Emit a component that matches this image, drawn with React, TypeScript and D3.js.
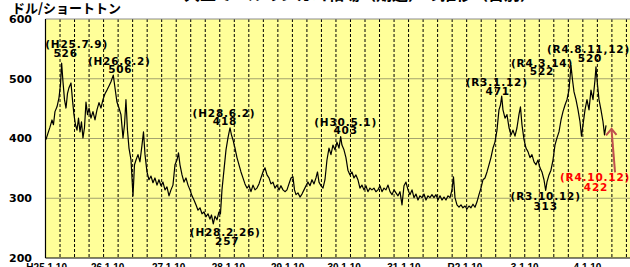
import React, { useEffect, useRef } from 'react';
import * as d3 from 'd3';

// decimal year, US$/short ton
const priceSeries: [number, number][] = [
  [2013.258, 398], [2013.293, 409], [2013.327, 419], [2013.362, 431], [2013.387, 423], [2013.413, 445],
  [2013.448, 453], [2013.482, 468], [2013.508, 490], [2013.528, 526], [2013.551, 495], [2013.577, 465],
  [2013.603, 451], [2013.628, 475], [2013.654, 485], [2013.689, 493], [2013.714, 465], [2013.74, 440],
  [2013.766, 423], [2013.792, 414], [2013.818, 434], [2013.844, 411], [2013.869, 428], [2013.895, 401],
  [2013.921, 418], [2013.947, 461], [2013.973, 440],
  [2014.0, 451], [2014.033, 434], [2014.067, 445], [2014.102, 431], [2014.136, 448], [2014.171, 460],
  [2014.205, 451], [2014.239, 465], [2014.274, 475], [2014.308, 481], [2014.343, 488], [2014.377, 495],
  [2014.417, 506], [2014.446, 485], [2014.48, 461], [2014.515, 451], [2014.549, 440], [2014.584, 401],
  [2014.61, 423], [2014.635, 465], [2014.661, 414], [2014.687, 384], [2014.722, 364], [2014.756, 304],
  [2014.782, 356], [2014.808, 364], [2014.842, 373], [2014.876, 361], [2014.911, 389], [2014.937, 411],
  [2014.963, 373], [2014.997, 344],
  [2015.031, 331], [2015.066, 337], [2015.1, 326], [2015.134, 334], [2015.169, 322], [2015.203, 331],
  [2015.238, 321], [2015.272, 327], [2015.307, 314], [2015.341, 319], [2015.376, 304], [2015.41, 314],
  [2015.444, 322], [2015.479, 356], [2015.513, 364], [2015.539, 376], [2015.565, 356], [2015.6, 339],
  [2015.634, 327], [2015.668, 334], [2015.703, 322], [2015.737, 314], [2015.772, 304], [2015.806, 297],
  [2015.84, 289], [2015.875, 280], [2015.909, 284], [2015.944, 274], [2015.978, 277],
  [2016.013, 269], [2016.047, 274], [2016.081, 265], [2016.107, 272], [2016.138, 257], [2016.168, 270],
  [2016.202, 264], [2016.236, 277], [2016.262, 274], [2016.288, 314], [2016.322, 347], [2016.357, 381],
  [2016.391, 401], [2016.426, 418], [2016.451, 406], [2016.477, 398], [2016.512, 384], [2016.546, 368],
  [2016.581, 356], [2016.615, 344], [2016.649, 334], [2016.684, 324], [2016.718, 317], [2016.753, 321],
  [2016.787, 311], [2016.822, 322], [2016.856, 314], [2016.89, 317], [2016.925, 324], [2016.959, 334],
  [2016.994, 344],
  [2017.028, 351], [2017.063, 339], [2017.097, 334], [2017.131, 324], [2017.166, 327], [2017.2, 317],
  [2017.235, 322], [2017.269, 314], [2017.303, 321], [2017.338, 314], [2017.372, 311], [2017.407, 314],
  [2017.441, 324], [2017.476, 334], [2017.51, 336], [2017.536, 314], [2017.562, 306], [2017.596, 309],
  [2017.631, 302], [2017.665, 307], [2017.7, 314], [2017.734, 321], [2017.768, 327], [2017.803, 321],
  [2017.837, 331], [2017.872, 324], [2017.906, 334], [2017.932, 344], [2017.958, 327], [2017.992, 321],
  [2018.027, 317], [2018.061, 331], [2018.095, 364], [2018.13, 384], [2018.164, 373], [2018.198, 389],
  [2018.233, 381], [2018.267, 394], [2018.302, 384], [2018.331, 403], [2018.353, 389], [2018.388, 381],
  [2018.422, 368], [2018.456, 347], [2018.491, 339], [2018.525, 344], [2018.56, 334], [2018.594, 339],
  [2018.628, 331], [2018.663, 317], [2018.697, 322], [2018.732, 314], [2018.766, 321], [2018.8, 311],
  [2018.835, 317], [2018.869, 314], [2018.904, 317], [2018.938, 311], [2018.973, 314],
  [2019.008, 321], [2019.042, 311], [2019.077, 317], [2019.111, 314], [2019.146, 322], [2019.18, 311],
  [2019.215, 306], [2019.249, 314], [2019.283, 309], [2019.318, 304], [2019.352, 311], [2019.387, 289],
  [2019.421, 321], [2019.455, 327], [2019.49, 314], [2019.524, 306], [2019.559, 314], [2019.593, 301],
  [2019.627, 307], [2019.662, 297], [2019.696, 304], [2019.731, 301], [2019.765, 307], [2019.8, 297],
  [2019.834, 304], [2019.868, 301], [2019.903, 306], [2019.937, 301], [2019.972, 306],
  [2020.006, 297], [2020.041, 304], [2020.075, 297], [2020.11, 302], [2020.144, 297], [2020.179, 304],
  [2020.213, 301], [2020.247, 314], [2020.273, 336], [2020.299, 301], [2020.333, 289], [2020.368, 285],
  [2020.402, 289], [2020.436, 284], [2020.471, 287], [2020.505, 282], [2020.54, 287], [2020.574, 284],
  [2020.609, 290], [2020.643, 285], [2020.678, 294], [2020.712, 306], [2020.746, 317], [2020.781, 331],
  [2020.815, 334], [2020.85, 344], [2020.884, 356], [2020.918, 368], [2020.953, 384], [2020.987, 394],
  [2021.022, 414], [2021.056, 448], [2021.082, 456], [2021.103, 471], [2021.125, 448], [2021.16, 434],
  [2021.194, 440], [2021.229, 418], [2021.263, 406], [2021.297, 414], [2021.332, 404], [2021.366, 418],
  [2021.4, 440], [2021.426, 453], [2021.452, 423], [2021.487, 398], [2021.521, 384], [2021.555, 378],
  [2021.59, 368], [2021.624, 373], [2021.659, 361], [2021.693, 356], [2021.727, 364], [2021.762, 351],
  [2021.796, 344], [2021.831, 331], [2021.86, 313], [2021.882, 327], [2021.917, 339], [2021.951, 347],
  [2021.986, 364],
  [2022.02, 389], [2022.055, 401], [2022.089, 411], [2022.124, 431], [2022.158, 445], [2022.193, 456],
  [2022.227, 465], [2022.261, 481], [2022.296, 522], [2022.322, 498], [2022.348, 478], [2022.382, 465],
  [2022.417, 448], [2022.451, 428], [2022.477, 404], [2022.503, 423], [2022.537, 448], [2022.571, 465],
  [2022.606, 448], [2022.64, 481], [2022.675, 465], [2022.709, 498], [2022.726, 520], [2022.752, 490],
  [2022.778, 465], [2022.812, 448], [2022.847, 428], [2022.873, 406], [2022.899, 422],
];

const yTicks = [200, 300, 400, 500, 600];
// where each year's first label sits on the (trading-day) axis
const labelYears = [2013.27, 2014.32, 2015.37, 2016.4, 2017.42, 2018.39, 2019.42, 2020.47, 2021.5, 2022.58];
const labelTexts = ['H25.1.10', '26.1.10', '27.1.10', '28.1.10', '29.1.10', '30.1.10', '31.1.10', 'R2.1.10', '3.1.10', '4.1.10'];

const peakDates = [2013.528, 2014.417, 2016.138, 2016.426, 2018.331, 2021.103, 2021.86, 2022.296, 2022.726, 2022.899];
const peakValues = [526, 506, 257, 418, 403, 471, 313, 522, 520, 422];
const peakNames = ['(H25.7.9)', '(H26.6.2)', '(H28.2.26)', '(H28.6.2)', '(H30.5.1)', '(R3.1.12)', '(R3.10.12)', '(R4.3.14)', '(R4.8.11,12)', '(R4.10.12)'];
// label placement relative to the point: [dx name, dy name, dx value, dy value]
const peakOffsets = [
  [15, -15, 4, -6], [6, -10, 7, -2], [12, 12, 14, 21], [-6, -11, -5, -3], [5, -11, 5, -3],
  [-5, -10, -4, -1], [0, 9.5, 0, 19.5], [-29, 1, -29, 9.5], [-7.5, -14, -6, -5], [-11, 56, -10, 66],
];

const titleText = '大豆ミールのシカゴ相場（期近）の推移（日別）';

export default function App() {
  const ref = useRef<SVGSVGElement>(null);

  useEffect(() => {
    if (!ref.current) return;
    const svg = d3.select(ref.current);
    svg.selectAll('*').remove();

    const left = 45.5, top = 19, bottom = 258;
    const x = d3.scaleLinear().domain([2013.25, 2023.5]).range([left, left + 41 * 14.523]);
    const y = d3.scaleLinear().domain([200, 600]).range([bottom, top]);
    const right = x(2023.5);

    svg.append('rect')
      .attr('x', left).attr('y', top)
      .attr('width', right - left).attr('height', bottom - top)
      .attr('fill', '#ffff99');

    // horizontal grid
    svg.append('g').selectAll('line')
      .data(yTicks.filter(d => d > 200 && d < 600))
      .enter().append('line')
      .attr('x1', left).attr('x2', right)
      .attr('y1', d => y(d)).attr('y2', d => y(d))
      .attr('stroke', '#a3a36e').attr('stroke-width', 1);

    // quarterly dashed verticals
    const quarters = d3.range(2013.5, 2023.5, 0.25);
    svg.append('g').selectAll('line')
      .data(quarters)
      .enter().append('line')
      .attr('x1', d => x(d)).attr('x2', d => x(d))
      .attr('y1', top).attr('y2', bottom)
      .attr('stroke', '#000').attr('stroke-width', 1)
      .attr('stroke-dasharray', '3,2');

    // frame
    svg.append('line').attr('x1', left).attr('x2', right).attr('y1', top).attr('y2', top)
      .attr('stroke', '#8c8c8c').attr('stroke-width', 1);
    svg.append('line').attr('x1', left).attr('x2', left).attr('y1', top).attr('y2', bottom)
      .attr('stroke', '#000').attr('stroke-width', 1.2);
    svg.append('line').attr('x1', left).attr('x2', right).attr('y1', bottom).attr('y2', bottom)
      .attr('stroke', '#000').attr('stroke-width', 1.2);

    // y tick labels
    svg.append('g').selectAll('text')
      .data(yTicks)
      .enter().append('text')
      .attr('x', 32).attr('y', d => y(d))
      .attr('dy', '0.36em')
      .attr('text-anchor', 'end')
      .style('font-family', 'DejaVu Sans')
      .style('font-weight', 'bold')
      .style('font-size', '11px')
      .text(d => d);

    // unit
    svg.append('text')
      .attr('x', 12).attr('y', 12.5)
      .style('font-family', 'Noto Sans CJK JP')
      .style('font-weight', 'bold')
      .style('font-size', '13px')
      .text('ドル/ショートトン');

    // title (cut off at the top)
    svg.append('text')
      .attr('x', 360).attr('y', -0.5)
      .attr('text-anchor', 'middle')
      .style('font-family', 'Noto Sans CJK JP')
      .style('font-weight', 'bold')
      .style('font-size', '16px')
      .text(titleText);

    // x labels (only their tops show)
    svg.append('g').selectAll('text')
      .data(labelYears)
      .enter().append('text')
      .attr('x', d => x(d)).attr('y', 271)
      .attr('text-anchor', 'middle')
      .style('font-family', 'Liberation Sans')
      .style('font-weight', 'bold')
      .style('font-size', '10px')
      .text((d, i) => labelTexts[i]);

    // price line
    const line = d3.line<[number, number]>()
      .x(d => x(d[0]))
      .y(d => y(d[1]));
    svg.append('path')
      .datum(priceSeries)
      .attr('d', line)
      .attr('fill', 'none')
      .attr('stroke', '#000')
      .attr('stroke-width', 1.2)
      .attr('stroke-linejoin', 'round');

    // peak annotations
    peakDates.forEach((t, i) => {
      const px = x(t), py = y(peakValues[i]);
      const [dx1, dy1, dx2, dy2] = peakOffsets[i];
      const color = i === peakDates.length - 1 ? '#ff0000' : '#000';
      const g = svg.append('g')
        .style('font-family', 'DejaVu Sans')
        .style('font-weight', 'bold')
        .style('font-size', '10.5px')
        .style('letter-spacing', '0.8px')
        .attr('fill', color)
        .attr('text-anchor', 'middle');
      g.append('text').attr('x', px + dx1).attr('y', py + dy1).text(peakNames[i]);
      g.append('text').attr('x', px + dx2).attr('y', py + dy2).text(peakValues[i]);
    });

    // arrow to the latest price
    const last = priceSeries[priceSeries.length - 1];
    const ax = x(last[0]), ay = y(last[1]);
    const arrowColor = '#c0504d';
    svg.append('line')
      .attr('x1', ax + 9).attr('y1', ay + 47)
      .attr('x2', ax + 5.5).attr('y2', ay + 4)
      .attr('stroke', arrowColor).attr('stroke-width', 2);
    svg.append('path')
      .attr('d', `M${ax},${ay + 10} L${ax + 5.5},${ay + 3.5} L${ax + 10.5},${ay + 9.5}`)
      .attr('fill', 'none')
      .attr('stroke', arrowColor).attr('stroke-width', 2);
  }, []);

  return (
    <svg ref={ref} width={630} height={267}
      style={{ position: 'absolute', left: 0, top: 0, background: '#fff' }} />
  );
}
